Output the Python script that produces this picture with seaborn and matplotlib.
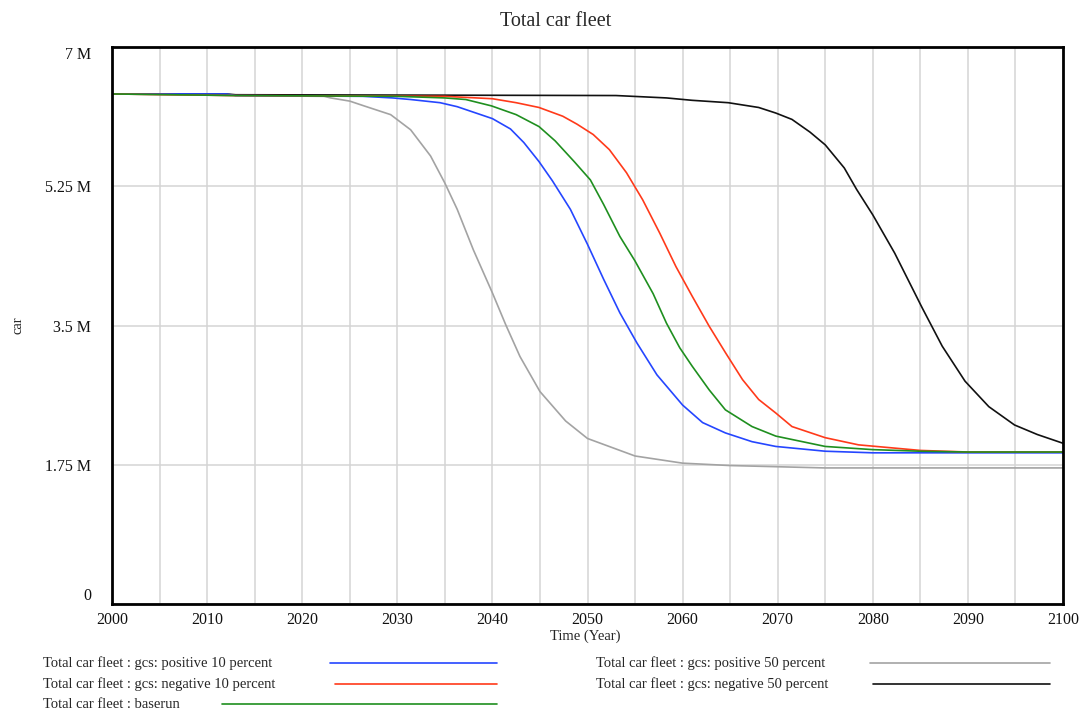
"""
Total car fleet scenarios (Vensim-style sensitivity chart).
"""
import numpy as np
import pandas as pd
import matplotlib
matplotlib.use('Agg')
import matplotlib.pyplot as plt
from matplotlib.lines import Line2D
import seaborn as sns

# Values in millions of cars
pos10_years = [2000, 2012, 2013, 2026.4, 2029.5, 2031.4, 2034.5, 2036.3, 2040, 2041.9,
               2043.3, 2044.9, 2046.3, 2048.2, 2050, 2051.7, 2053.4, 2055.2, 2057.3,
               2060, 2062.1, 2064.5, 2067.3, 2069.8, 2075, 2080, 2100]
pos10_vals = [6.41, 6.41, 6.39, 6.38, 6.36, 6.34, 6.30, 6.25, 6.10, 5.97,
              5.80, 5.56, 5.32, 4.96, 4.52, 4.08, 3.66, 3.28, 2.88,
              2.50, 2.28, 2.15, 2.04, 1.98, 1.92, 1.90, 1.90]

neg10_years = [2000, 2013, 2035, 2040, 2042.5, 2044.9, 2047.4, 2048.9, 2050.6, 2052.3,
               2054.1, 2055.8, 2057.6, 2059.3, 2061, 2062.8, 2064.5, 2066.3, 2068,
               2069.8, 2071.5, 2075, 2078.5, 2085, 2090, 2100]
neg10_vals = [6.41, 6.39, 6.38, 6.35, 6.30, 6.24, 6.13, 6.03, 5.90, 5.71,
              5.42, 5.08, 4.66, 4.24, 3.87, 3.49, 3.16, 2.82, 2.57,
              2.40, 2.23, 2.09, 2.00, 1.93, 1.91, 1.91]

base_years = [2000, 2013, 2030, 2035, 2037.2, 2039.9, 2042.5, 2044.9, 2046.6, 2048.6,
              2050.3, 2051.7, 2053.4, 2055, 2056.9, 2058.3, 2059.7, 2061, 2062.8,
              2064.5, 2067.3, 2069.8, 2075, 2080, 2085, 2090, 2100]
base_vals = [6.41, 6.39, 6.38, 6.36, 6.34, 6.26, 6.15, 6.00, 5.82, 5.56,
             5.33, 5.02, 4.62, 4.31, 3.90, 3.53, 3.22, 2.99, 2.69,
             2.44, 2.23, 2.11, 1.98, 1.94, 1.92, 1.91, 1.91]

pos50_years = [2000, 2013, 2022.3, 2023, 2025, 2026.5, 2029.3, 2031.4, 2033.5, 2035,
               2036.3, 2038, 2040, 2041.4, 2042.9, 2045, 2047.7, 2050, 2055, 2060,
               2065, 2075, 2100]
pos50_vals = [6.41, 6.39, 6.38, 6.36, 6.32, 6.26, 6.15, 5.96, 5.63, 5.29,
              4.96, 4.45, 3.91, 3.51, 3.11, 2.67, 2.30, 2.08, 1.86, 1.77,
              1.74, 1.71, 1.71]

neg50_years = [2000, 2012, 2013, 2053, 2058.3, 2061, 2064.8, 2068, 2069.8, 2071.5,
               2073.4, 2075, 2077, 2078.3, 2080, 2082.3, 2085.2, 2087.3, 2089.7,
               2092.2, 2094.9, 2097.3, 2100]
neg50_vals = [6.41, 6.41, 6.40, 6.39, 6.36, 6.33, 6.30, 6.24, 6.17, 6.09,
              5.93, 5.77, 5.48, 5.21, 4.89, 4.41, 3.72, 3.24, 2.80,
              2.48, 2.25, 2.13, 2.02]

series_names = [
    'Total car fleet : gcs: positive 50 percent',
    'Total car fleet : gcs: negative 50 percent',
    'Total car fleet : gcs: positive 10 percent',
    'Total car fleet : gcs: negative 10 percent',
    'Total car fleet : baserun',
]
series_data = [
    (pos50_years, pos50_vals),
    (neg50_years, neg50_vals),
    (pos10_years, pos10_vals),
    (neg10_years, neg10_vals),
    (base_years, base_vals),
]
colors = {
    'Total car fleet : gcs: positive 10 percent': '#2546ff',
    'Total car fleet : gcs: negative 10 percent': '#ff3a1a',
    'Total car fleet : baserun': '#1f8f1f',
    'Total car fleet : gcs: positive 50 percent': '#a3a3a3',
    'Total car fleet : gcs: negative 50 percent': '#111111',
}

frames = []
for name, (yrs, vals) in zip(series_names, series_data):
    frames.append(pd.DataFrame({'year': yrs, 'cars': np.array(vals) * 1e6, 'series': name}))
df = pd.concat(frames, ignore_index=True)

y_ticks = [0, 1.75e6, 3.5e6, 5.25e6, 7e6]
y_tick_labels = ['0', '1.75 M', '3.5 M', '5.25 M', '7 M']
x_ticks = list(range(2000, 2101, 10))

sns.set_style('white')
plt.rcParams['font.family'] = ['Liberation Serif', 'DejaVu Serif']

W, H = 1083, 711
fig = plt.figure(figsize=(W / 100, H / 100), dpi=100)
ax = fig.add_axes([112 / W, 1 - 604 / H, (1063 - 112) / W, (604 - 47) / H])

sns.lineplot(data=df, x='year', y='cars', hue='series', hue_order=series_names,
             palette=colors, linewidth=1.2, legend=False, ax=ax, sort=True,
             estimator=None)

ax.set_xlim(2000, 2100)
ax.set_ylim(0, 7e6)
ax.set_xticks(x_ticks)
ax.set_xticks(range(2005, 2100, 10), minor=True)
ax.set_yticks(y_ticks)
ax.set_yticklabels(y_tick_labels)
ax.grid(True, which='both', axis='x', color='#d4d4d4', linewidth=1.1)
ax.grid(True, which='major', axis='y', color='#d4d4d4', linewidth=1.1)
ax.set_axisbelow(True)
ax.tick_params(axis='both', which='both', length=0, labelsize=11.5, colors='#111111')
ax.tick_params(axis='x', pad=6)
ax.tick_params(axis='y', pad=15)
labels = ax.get_yticklabels()
labels[0].set_va('bottom')
labels[-1].set_va('top')

for sp in ax.spines.values():
    sp.set_visible(True)
    sp.set_color('black')
    sp.set_linewidth(2.0)

ax.set_xlabel('')
ax.set_ylabel('')
fig.text(585 / W, 1 - 636 / H, 'Time (Year)', ha='center', va='center', fontsize=10.5)
fig.text(18 / W, 1 - 325 / H, 'car', ha='center', va='center', rotation=90, fontsize=10.5)
fig.text(556 / W, 1 - 21 / H, 'Total car fleet', ha='center', va='center', fontsize=14.5)

# Legend rows: text on the left, line sample on the right
legend_rows = [
    ('Total car fleet : gcs: positive 10 percent', 43, 663, 330, 497),
    ('Total car fleet : gcs: negative 10 percent', 43, 684, 335, 497),
    ('Total car fleet : baserun', 43, 704, 222, 497),
    ('Total car fleet : gcs: positive 50 percent', 596, 663, 870, 1050),
    ('Total car fleet : gcs: negative 50 percent', 596, 684, 873, 1050),
]
for name, tx, ty, lx0, lx1 in legend_rows:
    fig.text(tx / W, 1 - ty / H, name, ha='left', va='center', fontsize=10.5)
    fig.add_artist(Line2D([lx0 / W, lx1 / W], [1 - ty / H, 1 - ty / H],
                          color=colors[name], linewidth=1.2, transform=fig.transFigure))

fig.savefig('out.png', dpi=100, facecolor='white')
plt.close(fig)
